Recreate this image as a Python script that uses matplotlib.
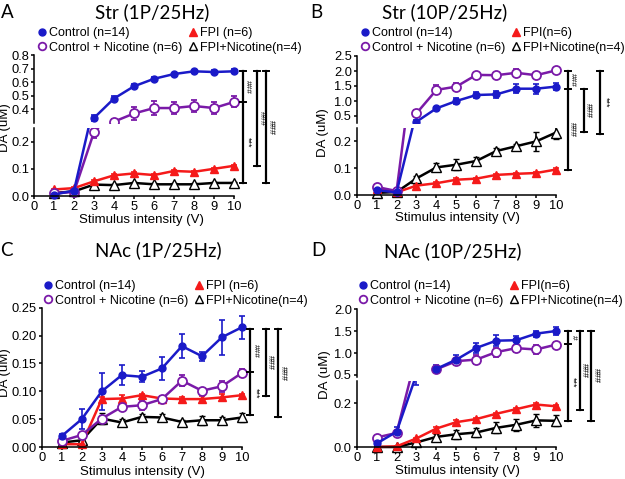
import numpy as np
import matplotlib
matplotlib.use('Agg')
import matplotlib.pyplot as plt
from matplotlib.lines import Line2D
from matplotlib.patches import Rectangle

plt.rcParams['font.family'] = ['Liberation Sans', 'DejaVu Sans']

volts = [1, 2, 3, 4, 5, 6, 7, 8, 9, 10]

# ---- A: Str (1P/25Hz)
a_ctrl = [0.005, 0.02, 0.337, 0.48, 0.57, 0.625, 0.66, 0.68, 0.675, 0.68]
a_ctrl_err = [0.004, 0.004, 0.02, 0.015, 0.015, 0.015, 0.008, 0.012, 0.015, 0.015]
a_nic = [0.01, 0.015, 0.235, 0.31, 0.37, 0.41, 0.41, 0.425, 0.41, 0.455]
a_nic_err = [0.004, 0.004, 0.02, 0.02, 0.045, 0.05, 0.045, 0.045, 0.045, 0.04]
a_fpi = [0.024, 0.029, 0.054, 0.076, 0.083, 0.077, 0.092, 0.089, 0.1, 0.111]
a_fpi_err = [0.003, 0.003, 0.004, 0.004, 0.005, 0.004, 0.004, 0.004, 0.004, 0.004]
a_fpinic = [0.011, 0.017, 0.042, 0.04, 0.048, 0.043, 0.043, 0.043, 0.048, 0.048]
a_fpinic_err = [0.002, 0.002, 0.004, 0.003, 0.003, 0.003, 0.003, 0.003, 0.003, 0.003]

# ---- B: Str (10P/25Hz)
b_ctrl = [0.018, 0.01, 0.31, 0.755, 1.0, 1.2, 1.22, 1.41, 1.41, 1.48]
b_ctrl_err = [0.004, 0.003, 0.05, 0.05, 0.1, 0.1, 0.12, 0.15, 0.17, 0.12]
b_nic = [0.03, 0.015, 0.59, 1.37, 1.48, 1.87, 1.86, 1.94, 1.86, 2.02]
b_nic_err = [0.004, 0.003, 0.1, 0.15, 0.12, 0.08, 0.08, 0.12, 0.06, 0.05]
b_fpi = [0.022, 0.01, 0.035, 0.044, 0.057, 0.061, 0.075, 0.079, 0.082, 0.095]
b_fpi_err = [0.003, 0.003, 0.004, 0.004, 0.006, 0.004, 0.004, 0.004, 0.004, 0.004]
b_fpinic = [0.008, 0.011, 0.062, 0.103, 0.113, 0.127, 0.164, 0.182, 0.2, 0.233]
b_fpinic_err = [0.003, 0.003, 0.01, 0.015, 0.02, 0.015, 0.012, 0.01, 0.035, 0.025]

# ---- C: NAc (1P/25Hz)
c_ctrl = [0.0197, 0.05, 0.1, 0.129, 0.126, 0.141, 0.181, 0.163, 0.197, 0.215]
c_ctrl_err = [0.003, 0.018, 0.033, 0.018, 0.01, 0.021, 0.021, 0.008, 0.031, 0.021]
c_nic = [0.011, 0.0215, 0.051, 0.072, 0.075, 0.086, 0.119, 0.101, 0.109, 0.133]
c_nic_err = [0.003, 0.004, 0.005, 0.006, 0.008, 0.006, 0.01, 0.003, 0.01, 0.007]
c_fpi = [0.005, 0.005, 0.086, 0.087, 0.093, 0.087, 0.086, 0.086, 0.089, 0.093]
c_fpi_err = [0.002, 0.002, 0.004, 0.007, 0.003, 0.004, 0.003, 0.005, 0.006, 0.003]
c_fpinic = [0.008, 0.012, 0.051, 0.044, 0.054, 0.053, 0.045, 0.048, 0.048, 0.053]
c_fpinic_err = [0.002, 0.002, 0.01, 0.006, 0.006, 0.007, 0.003, 0.008, 0.006, 0.008]

# ---- D: NAc (10P/25Hz)
d_ctrl = [0.016, 0.069, 0.33, 0.64, 0.85, 1.115, 1.28, 1.29, 1.44, 1.5]
d_ctrl_err = [0.01, 0.02, 0.05, 0.08, 0.1, 0.12, 0.13, 0.1, 0.07, 0.08]
d_nic = [0.043, 0.064, 0.42, 0.63, 0.815, 0.85, 1.02, 1.11, 1.08, 1.19]
d_nic_err = [0.005, 0.01, 0.05, 0.05, 0.08, 0.1, 0.1, 0.08, 0.1, 0.06]
d_fpi = [0.0, 0.003, 0.039, 0.084, 0.113, 0.127, 0.151, 0.172, 0.193, 0.185]
d_fpi_err = [0.003, 0.003, 0.004, 0.005, 0.01, 0.006, 0.005, 0.005, 0.005, 0.005]
d_fpinic = [0.0, 0.0, 0.021, 0.046, 0.058, 0.066, 0.087, 0.101, 0.121, 0.119]
d_fpinic_err = [0.003, 0.003, 0.008, 0.012, 0.02, 0.022, 0.025, 0.028, 0.03, 0.025]

labels_a = ['Control (n=14)', 'Control + Nicotine (n=6)', 'FPI (n=6)', 'FPI+Nicotine(n=4)']
labels_b = ['Control (n=14)', 'Control + Nicotine (n=6)', 'FPI(n=6)', 'FPI+Nicotine(n=4)']

# significance bars: (x, top, mid, bottom, upper text, lower text)
a_sig = [(10.43, 0.68, 0.455, 0.046, '###', '***'),
         (11.16, 0.68, None, 0.11, '###', None),
         (11.6, 0.68, None, 0.046, '###', None)]
b_sig = [(10.58, 2.0, 1.41, 0.095, '###', '###'),
         (11.4, 1.4, None, 0.235, '###', None),
         (12.22, 2.0, None, 0.228, '***', None)]
c_sig = [(10.41, 0.211, 0.135, 0.057, '###', '***'),
         (11.19, 0.211, None, 0.092, '###', None),
         (11.81, 0.211, None, 0.053, '###', None)]
d_sig = [(10.6, 1.5, 1.21, 0.12, '#', '***'),
         (11.2, 1.5, None, 0.17, '###', None),
         (11.78, 1.5, None, 0.12, '###', None)]

BLUE = '#1a1ac8'
PURPLE = '#7a1aa8'
RED = '#f51a1a'

W, H = 625, 479
fig = plt.figure(figsize=(W / 100, H / 100), dpi=100)


def rect(l, t, r, b):
    return [l / W, 1 - b / H, (r - l) / W, (b - t) / H]


def style_ax(ax, top=False):
    ax.spines['right'].set_visible(False)
    ax.spines['top'].set_visible(False)
    for s in ax.spines.values():
        s.set_linewidth(1.1)
    ax.set_xlim(0, 10.3)
    ax.spines['bottom'].set_bounds(0, 10)
    ax.tick_params(direction='out', length=2.5, width=1.1, labelsize=9.3, pad=1)
    if top:
        ax.spines['bottom'].set_visible(False)
        ax.set_xticks([])
    else:
        ax.set_xticks(range(11))


def draw_series(ax, groups, ylo, clip_lo, clip_hi):
    # groups: list of (values, errors, style)
    for vals, errs, kw in groups:
        y = np.array(vals, dtype=float)
        y = np.where(y >= ylo, y, np.nan)   # hide points that sit in the axis gap
        ax.errorbar(volts, y, yerr=errs, lw=1.8, elinewidth=1.2, capsize=2.5,
                    capthick=1.2, **kw)
    clip = Rectangle((-0.1, clip_lo), 1.3, clip_hi - clip_lo, transform=ax.transAxes)
    for art in ax.lines + list(ax.collections):
        art.set_clip_path(clip)


def series_styles(ctrl, ctrl_e, nic, nic_e, fpi, fpi_e, fn, fn_e):
    return [
        (fn, fn_e, dict(color='k', marker='^', ms=6.5, mfc='white', mec='k', mew=1.0)),
        (fpi, fpi_e, dict(color=RED, marker='^', ms=5.5, mfc=RED, mec=RED)),
        (nic, nic_e, dict(color=PURPLE, marker='o', ms=6.5, mfc='white', mec=PURPLE, mew=1.3)),
        (ctrl, ctrl_e, dict(color=BLUE, marker='o', ms=5, mfc=BLUE, mec=BLUE)),
    ]


def add_legend(ax, labels, left, top):
    handles = [
        Line2D([], [], ls='none', marker='o', ms=5, color=BLUE),
        Line2D([], [], ls='none', marker='o', ms=5.5, mfc='white', mec=PURPLE, mew=1.3),
        Line2D([], [], ls='none', marker='^', ms=5.5, color=RED),
        Line2D([], [], ls='none', marker='^', ms=5.5, mfc='white', mec='k', mew=1.0),
    ]
    ax.legend(handles, labels, ncol=2, loc='upper left', frameon=False,
              bbox_to_anchor=(left / W, 1 - top / H), bbox_transform=fig.transFigure,
              borderpad=0, borderaxespad=0, handlelength=0.6, handletextpad=0.3,
              columnspacing=0.5, labelspacing=0.22, fontsize=9)


def fig_xy(axs, x, y):
    ax = axs[-1]
    for a in axs:
        if y >= a.get_ylim()[0]:
            ax = a
            break
    pt = ax.transData.transform((x, y))
    return fig.transFigure.inverted().transform(pt)


def draw_sig(axs, sig):
    cap = 3 / W
    for x, top, mid, bot, t1, t2 in sig:
        x0, y0 = fig_xy(axs, x, top)
        _, y1 = fig_xy(axs, x, bot)
        fig.add_artist(Line2D([x0, x0], [y0, y1], transform=fig.transFigure, color='k', lw=1.6))
        ys = [y0, y1]
        if mid is not None:
            _, ym = fig_xy(axs, x, mid)
            ys.append(ym)
        for yy in ys:
            fig.add_artist(Line2D([x0 - cap, x0 + cap], [yy, yy], transform=fig.transFigure,
                                  color='k', lw=1.4))
        if mid is None:
            fig.text(x0 + 5 / W, (y0 + y1) / 2, t1, rotation=270, fontsize=6.5,
                     ha='center', va='center')
        else:
            fig.text(x0 + 5 / W, (y0 + ym) / 2, t1, rotation=270, fontsize=6,
                     ha='center', va='center')
            fig.text(x0 + 5 / W, (ym + y1) / 2, t2, rotation=270, fontsize=6.5,
                     ha='center', va='center')


def broken_panel(up_rect, lo_rect, up_lim, lo_lim, up_ticks, lo_ticks, data, sig):
    ax_up = fig.add_axes(rect(*up_rect))
    ax_lo = fig.add_axes(rect(*lo_rect))
    style_ax(ax_up, top=True)
    style_ax(ax_lo)
    ax_up.set_ylim(*up_lim)
    ax_lo.set_ylim(*lo_lim)
    ax_up.set_yticks(up_ticks)
    ax_up.set_yticklabels(['%.1f' % t for t in up_ticks])
    ax_lo.set_yticks(lo_ticks)
    ax_lo.set_yticklabels(['%.1f' % t for t in lo_ticks])
    draw_series(ax_up, data, up_lim[0], 0.0, 1.3)
    draw_series(ax_lo, data, -1, -0.3, 1.0)
    draw_sig([ax_up, ax_lo], sig)
    return ax_up, ax_lo


title_kw = dict(fontsize=13.5, family=['Lato', 'DejaVu Sans'], ha='center', va='center')
text_kw = dict(fontsize=9.5, ha='center', va='center')

# A
ax_up, ax_lo = broken_panel((34, 55, 240, 123), (34, 128, 240, 196), (0.3, 0.8), (0, 0.25),
                            [0.4, 0.5, 0.6, 0.7, 0.8], [0.0, 0.1, 0.2],
                            series_styles(a_ctrl, a_ctrl_err, a_nic, a_nic_err,
                                          a_fpi, a_fpi_err, a_fpinic, a_fpinic_err),
                            a_sig)
add_legend(ax_up, labels_a, 38, 27)
fig.text(7 / W, 1 - 12 / H, 'A', **title_kw)
fig.text(152 / W, 1 - 12 / H, 'Str (1P/25Hz)', **title_kw)
fig.text(5.5 / W, 1 - 128 / H, 'DA (uM)', rotation=90, **text_kw)
fig.text(141 / W, 1 - 220 / H, 'Stimulus intensity (V)', **text_kw)

# B
ax_up, ax_lo = broken_panel((356.7, 56, 562, 123.5), (356.7, 128, 562, 195), (0.25, 2.5), (0, 0.25),
                            [0.5, 1.0, 1.5, 2.0, 2.5], [0.0, 0.1, 0.2],
                            series_styles(b_ctrl, b_ctrl_err, b_nic, b_nic_err,
                                          b_fpi, b_fpi_err, b_fpinic, b_fpinic_err),
                            b_sig)
add_legend(ax_up, labels_b, 361, 27)
fig.text(316 / W, 1 - 12 / H, 'B', **title_kw)
fig.text(445 / W, 1 - 12 / H, 'Str (10P/25Hz)', **title_kw)
fig.text(323 / W, 1 - 133 / H, 'DA (uM)', rotation=90, **text_kw)
fig.text(457 / W, 1 - 218 / H, 'Stimulus intensity (V)', **text_kw)

# C
ax_c = fig.add_axes(rect(41.7, 307.7, 248, 447))
style_ax(ax_c)
ax_c.set_ylim(0, 0.25)
c_ticks = [0.0, 0.05, 0.10, 0.15, 0.20, 0.25]
ax_c.set_yticks(c_ticks)
ax_c.set_yticklabels(['%.2f' % t for t in c_ticks])
draw_series(ax_c, series_styles(c_ctrl, c_ctrl_err, c_nic, c_nic_err,
                                c_fpi, c_fpi_err, c_fpinic, c_fpinic_err), -1, -0.3, 1.3)
draw_sig([ax_c], c_sig)
add_legend(ax_c, labels_a, 44, 280)
fig.text(6 / W, 1 - 250 / H, 'C', **title_kw)
fig.text(158 / W, 1 - 250 / H, 'NAc (1P/25Hz)', **title_kw)
fig.text(5.5 / W, 1 - 373 / H, 'DA (uM)', rotation=90, **text_kw)
fig.text(142 / W, 1 - 472 / H, 'Stimulus intensity (V)', **text_kw)

# D
ax_up, ax_lo = broken_panel((356.7, 309, 562, 377.2), (356.7, 381, 562, 447), (0.45, 2.0), (0, 0.3),
                            [0.5, 1.0, 1.5, 2.0], [0.0, 0.2],
                            series_styles(d_ctrl, d_ctrl_err, d_nic, d_nic_err,
                                          d_fpi, d_fpi_err, d_fpinic, d_fpinic_err),
                            d_sig)
add_legend(ax_up, labels_b, 359, 280)
fig.text(318 / W, 1 - 251 / H, 'D', **title_kw)
fig.text(453 / W, 1 - 251 / H, 'NAc (10P/25Hz)', **title_kw)
fig.text(325 / W, 1 - 375 / H, 'DA (uM)', rotation=90, **text_kw)
fig.text(457 / W, 1 - 471 / H, 'Stimulus intensity (V)', **text_kw)

fig.savefig('out.png', dpi=100)
